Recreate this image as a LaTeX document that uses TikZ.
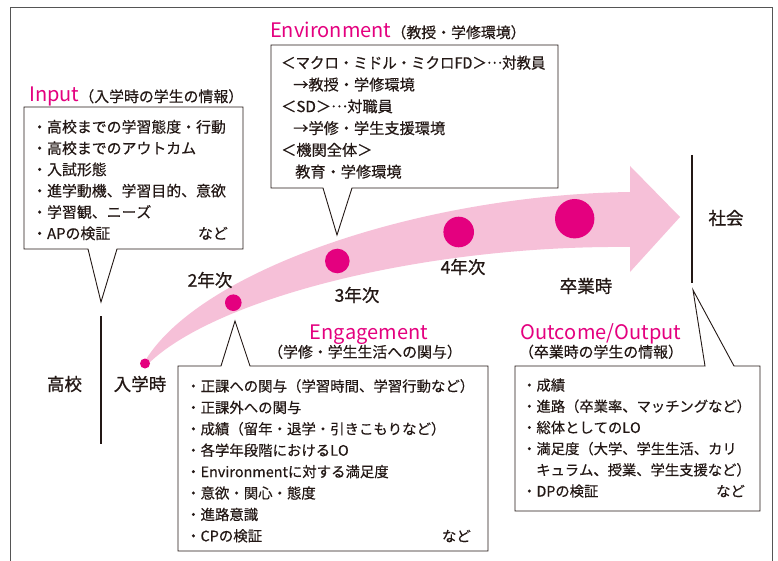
\documentclass[tikz,border=0pt]{standalone}
\usepackage{graphicx}
\usepackage{fontspec}
\setmainfont{Noto Sans CJK JP}[FakeBold=0.35, Kerning=Off, RawFeature={-chws}]
\newfontfamily\lblfont{Noto Sans CJK JP}[FakeBold=0.9, Kerning=Off]
\newfontfamily\ttlfont{Noto Sans CJK JP}[Kerning=Off]
\definecolor{mag}{HTML}{E4007F}
\definecolor{bandpink}{HTML}{F6C0D8}
\definecolor{ink}{HTML}{231815}
\definecolor{framegray}{HTML}{555555}
\newcommand{\szA}{\fontsize{14.9}{17}\selectfont}
\newcommand{\szB}{\fontsize{15.2}{17}\selectfont}
\newcommand{\szC}{\fontsize{14.4}{17}\selectfont}
\newcommand{\szD}{\fontsize{14.3}{17}\selectfont}
\newcommand{\mell}{\raisebox{0.32em}{…}}
\newcommand{\tc}{\makebox[1em][l]{、}}
\newcommand{\lp}{\makebox[1em][r]{（}}
\newcommand{\rp}{\makebox[1em][l]{）}}
\tikzset{
  callout/.style={draw=ink, line width=0.9pt, fill=white, line join=miter},
  body/.style={anchor=base west, inner sep=0pt, font=\szC, text=ink},
  ttl/.style={anchor=base west, inner sep=0pt, font=\ttlfont\fontsize{20}{24}\selectfont, text=mag},
  lbl/.style={inner sep=0pt, font=\lblfont\fontsize{17.5}{20}\selectfont, text=ink},
  stagedot/.style={circle, fill=mag, inner sep=0pt, minimum size=#1},
  bar/.style={draw=ink, line width=1.6pt}
}
\begin{document}
\begin{tikzpicture}[x=1pt,y=-1pt]
\useasboundingbox (0,0) rectangle (778,561);
\fill[white] (0,0) rectangle (778,561);
% frame
\draw[framegray, line width=0.8pt] (10,561) -- (10,7) -- (772,7) -- (772,561);
% band arrow
\fill[bandpink] (145,361) .. controls (200,270) and (420,195) .. (630,192) -- (630,166) -- (680,217) -- (630,272) -- (630,247) .. controls (420,245) and (210,300) .. (146,366) -- cycle;
% callouts
\draw[callout] (24,107) -- (243,107) -- (243,249) -- (117,249) -- (101,302) -- (88,249) -- (24,249) -- cycle;
\draw[callout] (271,45) -- (558,45) -- (558,188) -- (352,188) -- (337,235) -- (323,188) -- (271,188) -- cycle;
\draw[callout] (178,366) -- (221,366) -- (235,321) -- (250,366) -- (488,366) -- (488,551) -- (178,551) -- cycle;
\draw[callout] (515,366) -- (705,366) -- (693,290) -- (734,366) -- (760,366) -- (760,511) -- (515,511) -- cycle;
% stage dots
\node[stagedot=10pt] (d0) at (145,363.5) {};
\node[stagedot=16.6pt] (d2) at (233.3,302.7) {};
\node[stagedot=24.6pt] (d3) at (337.3,261) {};
\node[stagedot=30.6pt] (d4) at (458.7,232) {};
\node[stagedot=39.4pt] (d5) at (574.7,218.7) {};
% bars
\draw[bar] (101,316) -- (101,444);
\draw[bar] (692,155) -- (692,283);
% labels
\node[lbl] (koko) at (64.5,384) {高校};
\node[lbl] (nyu) at (140,384) {入学時};
\node[lbl] (y2) at (210,280) {2年次};
\node[lbl] (y3) at (357,295) {3年次};
\node[lbl] (y4) at (463,267) {4年次};
\node[lbl] (grad) at (586,286) {卒業時};
\node[lbl] (soc) at (726,218) {社会};
% titles
\node[ttl] (inT) at (29,102) {Input{\normalfont\szA\color{ink}（入学時の学生の情報）}};
\node[ttl] (envT) at (270,38) {Environment{\normalfont\szA\color{ink}（教授・学修環境）}};
\node[ttl, anchor=base] (engT) at (369,339) {Engagement};
\node[body, anchor=base, font=\szA] (engS) at (365,357.5) {（学修・学生生活への関与）};
\node[ttl] (outT) at (520,339) {Outcome/Output};
\node[body, anchor=base, font=\szA] (outS) at (601,357.5) {（卒業時の学生の情報）};
% Input lines
\foreach \t [count=\i from 0] in {・高校までの学習態度・行動, ・高校までのアウトカム, ・入試形態, ・進学動機\tc 学習目的\tc 意欲, ・学習観\tc ニーズ, ・APの検証}
  \node[body, font=\szA] (in\i) at (32,132.5+21.3*\i) {\t};
\node[body, font=\szA, anchor=base east] (inE) at (228,239) {など};
% Environment lines
\node[body, font=\szB] (env0) at (281,68.5) {\scalebox{0.95}[1]{＜マクロ・ミドル・ミクロFD＞\mell 対教員}};
\foreach \xx/\t [count=\i from 1] in {293/→教授・学修環境, 281/＜SD＞\mell 対職員, 293/→学修・学生支援環境, 281/＜機関全体＞, 295/教育・学修環境}
  \node[body, font=\szB] (env\i) at (\xx,68.5+21.8*\i) {\t};
% Engagement lines
\foreach \t [count=\i from 0] in {・正課への関与\lp 学習時間\tc 学習行動など\rp, ・正課外への関与, ・成績\lp 留年・退学・引きこもりなど\rp, ・各学年段階におけるLO, ・Environmentに対する満足度, ・意欲・関心・態度, ・進路意識, ・CPの検証}
  \node[body] (eng\i) at (186,391.5+21.4*\i) {\t};
\node[body, anchor=base east] (engE) at (471,541.5) {など};
% Outcome lines
\foreach \xx/\t [count=\i from 0] in {522/・成績, 522/・進路（卒業率、マッチングなど）, 522/・総体としてのLO, 522/・満足度（大学、学生生活、カリ, 536/キュラム、授業、学生支援など）, 522/・DPの検証}
  \node[body, font=\szD] (out\i) at (\xx,390.5+21.2*\i) {\t};
\node[body, font=\szD, anchor=base east] (outE) at (745,496.5) {など};
\end{tikzpicture}
\end{document}
